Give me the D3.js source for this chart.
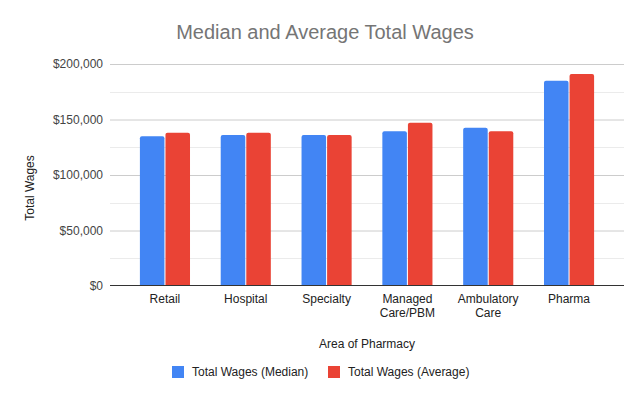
<!DOCTYPE html>
<html>
<head>
<meta charset="utf-8">
<script src="https://cdnjs.cloudflare.com/ajax/libs/d3/7.8.5/d3.min.js"></script>
<style>
    body { margin: 0; background: #fff; }
    svg { font-family: Arial, "Liberation Sans", sans-serif; }
</style>
</head>
<body>
<div id="chart"></div>
<script>
// Chart values
var categories = [["Retail"], ["Hospital"], ["Specialty"], ["Managed", "Care/PBM"], ["Ambulatory", "Care"], ["Pharma"]];
var seriesNames = ["Total Wages (Median)", "Total Wages (Average)"];
var medianWages = [135000, 136000, 136000, 139500, 142500, 185000];
var averageWages = [138000, 138000, 136000, 147000, 139500, 191000];
var yTicks = [0, 50000, 100000, 150000, 200000];

var width = 644, height = 399;
var plot = {left: 110, right: 624, top: 64, bottom: 286};
var colors = ["#4285f4", "#ea4335"];

var svg = d3.select("#chart").append("svg")
    .attr("width", width)
    .attr("height", height);

var catKeys = categories.map(function (c) { return c.join(" "); });

var x = d3.scaleBand()
    .domain(catKeys)
    .range([plot.left, plot.right])
    .paddingInner(0.38)
    .paddingOuter(0.37);

var xInner = d3.scaleBand()
    .domain([0, 1])
    .range([0, x.bandwidth()])
    .paddingInner(0.04);

var y = d3.scaleLinear()
    .domain([0, 200000])
    .range([plot.bottom, plot.top]);

// minor gridlines
var minor = d3.range(25000, 200000, 50000);
svg.append("g").selectAll("line").data(minor).enter().append("line")
    .attr("x1", plot.left).attr("x2", plot.right)
    .attr("y1", function (d) { return Math.round(y(d)) + 0.5; })
    .attr("y2", function (d) { return Math.round(y(d)) + 0.5; })
    .attr("stroke", "#ebebeb");

// y axis with major gridlines
var yAxis = d3.axisLeft(y)
    .tickValues(yTicks)
    .tickSize(0)
    .tickPadding(7)
    .tickFormat(function (d) { return "$" + d3.format(",")(d); });

var yg = svg.append("g")
    .attr("transform", "translate(" + plot.left + ",0)")
    .call(yAxis);
yg.select(".domain").remove();
yg.selectAll("text")
    .attr("fill", "#444")
    .style("font-size", "12px")
    .style("font-family", "Arial, 'Liberation Sans', sans-serif");
yg.selectAll(".tick").filter(function (d) { return d !== 0; })
    .append("line")
    .attr("x1", 0).attr("x2", plot.right - plot.left)
    .attr("stroke", "#cccccc");

// bars
var series = [medianWages, averageWages];
series.forEach(function (vals, si) {
    svg.append("g").selectAll("path").data(vals).enter().append("path")
        .attr("fill", colors[si])
        .attr("d", function (d, i) {
            var x0 = x(catKeys[i]) + xInner(si);
            var w = xInner.bandwidth();
            var y0 = y(d), y1 = y(0), r = 2;
            return "M" + x0 + "," + y1 +
                "V" + (y0 + r) +
                "Q" + x0 + "," + y0 + " " + (x0 + r) + "," + y0 +
                "H" + (x0 + w - r) +
                "Q" + (x0 + w) + "," + y0 + " " + (x0 + w) + "," + (y0 + r) +
                "V" + y1 + "Z";
        });
});

// baseline
svg.append("line")
    .attr("x1", plot.left).attr("x2", plot.right)
    .attr("y1", y(0) - 0.5).attr("y2", y(0) - 0.5)
    .attr("stroke", "#333");

// x axis labels
var xg = svg.append("g");
categories.forEach(function (lines, i) {
    var t = xg.append("text")
        .attr("x", x(catKeys[i]) + x.bandwidth() / 2)
        .attr("y", 303)
        .attr("text-anchor", "middle")
        .attr("fill", "#222")
        .style("font-size", "12px");
    lines.forEach(function (l, j) {
        t.append("tspan")
            .attr("x", x(catKeys[i]) + x.bandwidth() / 2)
            .attr("dy", j === 0 ? 0 : 14)
            .text(l);
    });
});

// title
svg.append("text")
    .attr("x", (plot.left + plot.right) / 2 - 42)
    .attr("y", 39)
    .attr("text-anchor", "middle")
    .attr("fill", "#757575")
    .style("font-size", "20px")
    .text("Median and Average Total Wages");

// axis titles
svg.append("text")
    .attr("x", (plot.left + plot.right) / 2)
    .attr("y", 348)
    .attr("text-anchor", "middle")
    .attr("fill", "#222")
    .style("font-size", "12px")
    .text("Area of Pharmacy");

svg.append("text")
    .attr("transform", "translate(34,188) rotate(-90)")
    .attr("text-anchor", "middle")
    .attr("fill", "#222")
    .style("font-size", "12px")
    .text("Total Wages");

// legend
var legendX = [172, 328];
seriesNames.forEach(function (name, i) {
    svg.append("rect")
        .attr("x", legendX[i]).attr("y", 366)
        .attr("width", 12).attr("height", 12)
        .attr("fill", colors[i]);
    svg.append("text")
        .attr("x", legendX[i] + 20).attr("y", 376)
        .attr("fill", "#222")
        .style("font-size", "12px")
        .text(name);
});
</script>
</body>
</html>
